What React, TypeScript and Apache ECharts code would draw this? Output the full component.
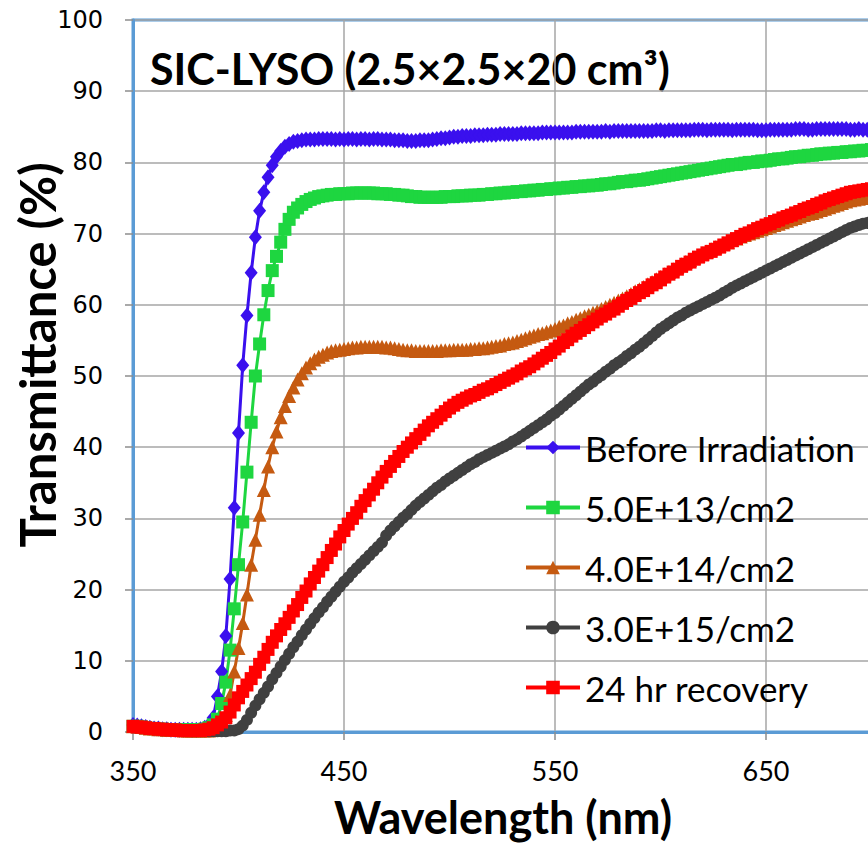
import React, { useEffect, useRef } from "react";
import * as echarts from "echarts";

// Wavelength sampling (nm): 350 to 700 in 2 nm steps
const WL_START = 350;
const WL_STEP = 2;

const beforeIrradiation = [
  1.0, 0.9, 0.8, 0.7, 0.6, 0.5, 0.5, 0.4, 0.4, 0.3,
  0.3, 0.3, 0.3, 0.3, 0.3, 0.3, 0.4, 0.6, 1.0, 2.0,
  5.0, 8.5, 13.5, 21.5, 31.5, 42.0, 51.5, 58.5, 64.5, 69.5,
  73.2, 75.8, 77.9, 79.6, 80.8, 81.6, 82.2, 82.6, 82.9, 83.0,
  83.1, 83.2, 83.2, 83.2, 83.3, 83.3, 83.3, 83.3, 83.2, 83.3,
  83.2, 83.3, 83.3, 83.2, 83.3, 83.3, 83.2, 83.3, 83.3, 83.2,
  83.2, 83.2, 83.1, 83.1, 83.1, 83.0, 83.0, 83.0, 83.1, 83.1,
  83.1, 83.2, 83.3, 83.4, 83.4, 83.5, 83.6, 83.6, 83.7, 83.7,
  83.7, 83.8, 83.8, 83.8, 83.9, 83.9, 83.9, 84.0, 84.0, 84.0,
  84.0, 84.0, 84.1, 84.1, 84.1, 84.1, 84.1, 84.2, 84.2, 84.2,
  84.2, 84.2, 84.2, 84.2, 84.2, 84.3, 84.3, 84.3, 84.3, 84.3,
  84.3, 84.3, 84.4, 84.3, 84.4, 84.4, 84.4, 84.4, 84.4, 84.4,
  84.4, 84.4, 84.4, 84.4, 84.5, 84.5, 84.4, 84.5, 84.5, 84.5,
  84.5, 84.5, 84.5, 84.6, 84.6, 84.6, 84.5, 84.6, 84.6, 84.6,
  84.6, 84.6, 84.5, 84.6, 84.6, 84.6, 84.6, 84.6, 84.5, 84.5,
  84.5, 84.6, 84.6, 84.6, 84.6, 84.6, 84.6, 84.7, 84.7, 84.7,
  84.6, 84.6, 84.7, 84.7, 84.7, 84.7, 84.7, 84.7, 84.7, 84.7,
  84.6, 84.6, 84.7, 84.6, 84.6, 84.6,
];

const dose5e13 = [
  0.8, 0.8, 0.7, 0.6, 0.5, 0.5, 0.4, 0.4, 0.3, 0.3,
  0.3, 0.3, 0.3, 0.3, 0.3, 0.3, 0.3, 0.4, 0.6, 1.0,
  1.8, 4.0, 7.0, 11.5, 17.3, 23.5, 29.5, 36.5, 43.5, 50.0,
  54.5, 58.6, 62.0, 64.8, 66.8, 68.8, 70.6, 72.0, 73.0, 73.6,
  74.1, 74.5, 74.8, 75.0, 75.2, 75.3, 75.4, 75.5, 75.5, 75.6,
  75.6, 75.6, 75.7, 75.7, 75.7, 75.7, 75.7, 75.7, 75.6, 75.6,
  75.6, 75.5, 75.5, 75.4, 75.4, 75.3, 75.2, 75.2, 75.1, 75.1,
  75.1, 75.1, 75.1, 75.1, 75.2, 75.2, 75.2, 75.3, 75.3, 75.3,
  75.4, 75.4, 75.4, 75.5, 75.5, 75.6, 75.6, 75.7, 75.7, 75.8,
  75.8, 75.9, 75.9, 76.0, 76.0, 76.1, 76.1, 76.2, 76.2, 76.3,
  76.3, 76.4, 76.4, 76.5, 76.5, 76.6, 76.6, 76.7, 76.7, 76.8,
  76.8, 76.9, 77.0, 77.0, 77.1, 77.2, 77.3, 77.3, 77.4, 77.5,
  77.5, 77.6, 77.7, 77.8, 77.9, 78.0, 78.1, 78.2, 78.3, 78.4,
  78.5, 78.6, 78.7, 78.8, 78.9, 79.0, 79.1, 79.2, 79.3, 79.4,
  79.5, 79.6, 79.7, 79.7, 79.8, 79.9, 80.0, 80.0, 80.1, 80.2,
  80.2, 80.3, 80.4, 80.5, 80.5, 80.6, 80.7, 80.8, 80.8, 80.9,
  81.0, 81.0, 81.1, 81.2, 81.2, 81.3, 81.3, 81.4, 81.4, 81.5,
  81.5, 81.6, 81.6, 81.7, 81.7, 81.8,
];

const dose4e14 = [
  0.8, 0.8, 0.7, 0.6, 0.5, 0.5, 0.4, 0.4, 0.3, 0.3,
  0.3, 0.3, 0.2, 0.2, 0.2, 0.2, 0.2, 0.2, 0.2, 0.3,
  0.4, 1.0, 2.4, 5.2, 8.5, 11.8, 15.3, 19.3, 23.5, 27.0,
  30.5, 34.0, 37.3, 40.0, 42.2, 44.2, 45.8, 47.2, 48.4, 49.5,
  50.4, 51.2, 51.8, 52.3, 52.7, 53.0, 53.3, 53.5, 53.6, 53.7,
  53.8, 53.9, 54.0, 54.0, 54.1, 54.1, 54.1, 54.1, 54.1, 54.1,
  54.0, 54.0, 53.9, 53.8, 53.7, 53.6, 53.6, 53.5, 53.5, 53.5,
  53.5, 53.5, 53.5, 53.6, 53.6, 53.6, 53.7, 53.7, 53.7, 53.7,
  53.8, 53.8, 53.9, 53.9, 54.0, 54.1, 54.2, 54.3, 54.5, 54.6,
  54.7, 54.9, 55.1, 55.3, 55.5, 55.7, 55.9, 56.0, 56.2, 56.4,
  56.6, 56.9, 57.1, 57.4, 57.6, 57.9, 58.1, 58.4, 58.6, 58.9,
  59.1, 59.4, 59.7, 60.0, 60.3, 60.6, 60.9, 61.2, 61.5, 61.9,
  62.2, 62.5, 62.9, 63.2, 63.6, 63.9, 64.3, 64.6, 65.0, 65.3,
  65.7, 66.0, 66.3, 66.6, 66.9, 67.2, 67.5, 67.8, 68.1, 68.3,
  68.6, 68.8, 69.1, 69.3, 69.6, 69.8, 70.0, 70.2, 70.4, 70.6,
  70.8, 71.0, 71.2, 71.4, 71.6, 71.8, 72.0, 72.2, 72.4, 72.6,
  72.8, 72.9, 73.1, 73.3, 73.5, 73.7, 73.9, 74.1, 74.3, 74.5,
  74.7, 74.8, 74.9, 75.0, 75.1, 75.2,
];

const dose3e15 = [
  0.8, 0.7, 0.6, 0.5, 0.5, 0.4, 0.4, 0.3, 0.3, 0.3,
  0.2, 0.2, 0.2, 0.2, 0.1, 0.1, 0.1, 0.1, 0.1, 0.1,
  0.1, 0.1, 0.1, 0.2, 0.2, 0.4, 0.9, 1.7, 2.7, 3.7,
  4.6, 5.5, 6.4, 7.4, 8.3, 9.2, 10.1, 11.0, 11.9, 12.7,
  13.6, 14.4, 15.2, 16.0, 16.8, 17.5, 18.3, 19.0, 19.7, 20.4,
  21.1, 21.7, 22.4, 23.0, 23.6, 24.2, 24.8, 25.4, 26.0, 26.6,
  27.6, 28.3, 28.9, 29.5, 30.1, 30.6, 31.2, 31.8, 32.3, 32.8,
  33.3, 33.8, 34.3, 34.7, 35.2, 35.6, 36.0, 36.4, 36.8, 37.2,
  37.6, 37.9, 38.3, 38.6, 38.9, 39.2, 39.5, 39.8, 40.1, 40.4,
  40.8, 41.1, 41.5, 41.9, 42.3, 42.7, 43.1, 43.5, 43.9, 44.4,
  44.8, 45.3, 45.8, 46.3, 46.8, 47.3, 47.8, 48.3, 48.8, 49.2,
  49.7, 50.1, 50.6, 51.0, 51.5, 51.9, 52.3, 52.8, 53.2, 53.7,
  54.1, 54.6, 55.1, 55.6, 56.1, 56.6, 57.0, 57.4, 57.8, 58.2,
  58.5, 58.9, 59.2, 59.5, 59.8, 60.1, 60.4, 60.7, 61.0, 61.3,
  61.7, 62.0, 62.4, 62.7, 63.0, 63.3, 63.6, 63.9, 64.2, 64.5,
  64.8, 65.1, 65.4, 65.7, 66.0, 66.3, 66.6, 66.9, 67.2, 67.5,
  67.8, 68.1, 68.4, 68.7, 69.0, 69.3, 69.6, 69.9, 70.2, 70.5,
  70.8, 71.0, 71.2, 71.4, 71.5, 71.7,
];

const recovery24h = [
  0.8, 0.7, 0.7, 0.6, 0.5, 0.5, 0.4, 0.4, 0.3, 0.3,
  0.3, 0.2, 0.2, 0.2, 0.2, 0.2, 0.2, 0.3, 0.4, 0.6,
  1.0, 1.4, 2.0, 2.8, 3.8, 4.8, 5.7, 6.6, 7.5, 8.4,
  9.5, 10.5, 11.6, 12.6, 13.5, 14.4, 15.2, 16.1, 17.0, 17.9,
  18.9, 19.8, 20.8, 21.7, 22.6, 23.5, 24.5, 25.5, 26.4, 27.4,
  28.3, 29.2, 30.0, 30.8, 31.7, 32.5, 33.3, 34.1, 35.0, 35.8,
  36.6, 37.3, 38.0, 38.7, 39.4, 40.0, 40.6, 41.2, 41.8, 42.4,
  43.0, 43.5, 44.0, 44.5, 45.0, 45.5, 45.9, 46.3, 46.6, 46.9,
  47.2, 47.4, 47.7, 48.0, 48.2, 48.5, 48.8, 49.1, 49.4, 49.7,
  50.0, 50.3, 50.7, 51.0, 51.3, 51.7, 52.1, 52.5, 52.9, 53.3,
  53.8, 54.2, 54.7, 55.1, 55.6, 56.0, 56.4, 56.8, 57.2, 57.6,
  58.0, 58.4, 58.7, 59.1, 59.4, 59.8, 60.2, 60.6, 60.9, 61.3,
  61.7, 62.0, 62.4, 62.8, 63.1, 63.5, 63.9, 64.3, 64.6, 65.0,
  65.4, 65.7, 66.0, 66.4, 66.7, 67.0, 67.3, 67.5, 67.8, 68.1,
  68.4, 68.7, 69.0, 69.3, 69.6, 69.9, 70.1, 70.4, 70.7, 70.9,
  71.2, 71.4, 71.7, 71.9, 72.2, 72.4, 72.6, 72.9, 73.1, 73.4,
  73.6, 73.8, 74.1, 74.3, 74.6, 74.8, 75.0, 75.2, 75.4, 75.6,
  75.8, 75.9, 76.0, 76.1, 76.2, 76.3,
];

const seriesNames = [
  "Before Irradiation",
  "5.0E+13/cm2",
  "4.0E+14/cm2",
  "3.0E+15/cm2",
  "24 hr recovery",
];
const seriesColors = ["#3A10EE", "#1ED640", "#C55A11", "#404040", "#FF0000"];
const seriesSymbols = ["diamond", "rect", "triangle", "circle", "rect"];
const seriesSymbolSizes: (number | number[])[] = [[13, 16], 13, 14, 12, 13];
const seriesValues = [beforeIrradiation, dose5e13, dose4e14, dose3e15, recovery24h];

const xTicks = { min: 350, max: 800, interval: 100, lastVisible: 700 };
const yTicks = { min: 0, max: 100, interval: 10 };

export default function App() {
  const ref = useRef<HTMLDivElement>(null);
  useEffect(() => {
    if (!ref.current) return;
    const chart = echarts.init(ref.current, undefined, { renderer: "svg" });
    const series = seriesValues.map((vals, si) => ({
      name: seriesNames[si],
      type: "line",
      data: vals.map((v, i) => [WL_START + WL_STEP * i, v]),
      symbol: seriesSymbols[si],
      symbolSize: seriesSymbolSizes[si],
      showAllSymbol: true,
      color: seriesColors[si],
      itemStyle: { color: seriesColors[si] },
      lineStyle: { color: seriesColors[si], width: 3 },
      silent: true,
      emphasis: { disabled: true },
    }));
    chart.setOption({
      animation: false,
      grid: {
        left: 133,
        top: 20,
        width: 949.5,
        height: 712,
        show: true,
        borderColor: "#5B9BD5",
        borderWidth: 3,
        backgroundColor: "transparent",
        outerBoundsMode: "none",
      },
      xAxis: {
        type: "value",
        min: xTicks.min,
        max: xTicks.max,
        interval: xTicks.interval,
        axisLine: { show: true, onZero: false, lineStyle: { color: "#5B9BD5", width: 3 } },
        axisTick: { show: true, length: 8, lineStyle: { color: "#8C8C8C", width: 1.5 } },
        axisLabel: {
          fontFamily: "Lato",
          fontSize: 27,
          color: "#000",
          margin: 25,
          formatter: (v: number) => (v > xTicks.lastVisible ? "" : String(v)),
        },
        splitLine: { show: true, lineStyle: { color: "#A6A6A6", width: 1.5 } },
      },
      yAxis: {
        type: "value",
        min: yTicks.min,
        max: yTicks.max,
        interval: yTicks.interval,
        axisLine: { show: true, lineStyle: { color: "#5B9BD5", width: 3 } },
        axisTick: { show: true, length: 8, lineStyle: { color: "#8C8C8C", width: 1.5 } },
        axisLabel: { fontFamily: "DejaVu Sans", fontSize: 24, color: "#000", margin: 30 },
        splitLine: { show: true, lineStyle: { color: "#A6A6A6", width: 1.5 } },
      },
      legend: {
        orient: "vertical",
        left: 524,
        top: 430,
        padding: 0,
        itemWidth: 54,
        itemHeight: 17,
        itemGap: 25,
        data: seriesNames,
        lineStyle: { width: 4 },
        textStyle: { fontFamily: "Lato", fontSize: 35, color: "#000" },
        selectedMode: false,
      },
      graphic: [
        {
          type: "text",
          x: 150,
          y: 68,
          style: {
            text: "SIC-LYSO (2.5×2.5×20 cm³)",
            font: "bold 43px Lato",
            fill: "#000",
            verticalAlign: "middle",
            textVerticalAlign: "middle",
          },
        },
        {
          type: "text",
          x: 503,
          y: 817,
          style: {
            text: "Wavelength (nm)",
            font: "bold 45px Lato",
            fill: "#000",
            align: "center",
            verticalAlign: "middle",
            textAlign: "center",
            textVerticalAlign: "middle",
          },
        },
        {
          type: "text",
          x: 37,
          y: 355,
          rotation: Math.PI / 2,
          style: {
            text: "Transmittance (%)",
            font: "bold 49px Lato",
            fill: "#000",
            align: "center",
            verticalAlign: "middle",
            textAlign: "center",
            textVerticalAlign: "middle",
          },
        },
      ],
      series,
    });
    return () => chart.dispose();
  }, []);
  return (
    <div
      style={{
        position: "absolute",
        left: 0,
        top: 0,
        width: 868,
        height: 844,
        overflow: "hidden",
      }}
    >
      <div ref={ref} style={{ width: 1100, height: 844 }} />
    </div>
  );
}
